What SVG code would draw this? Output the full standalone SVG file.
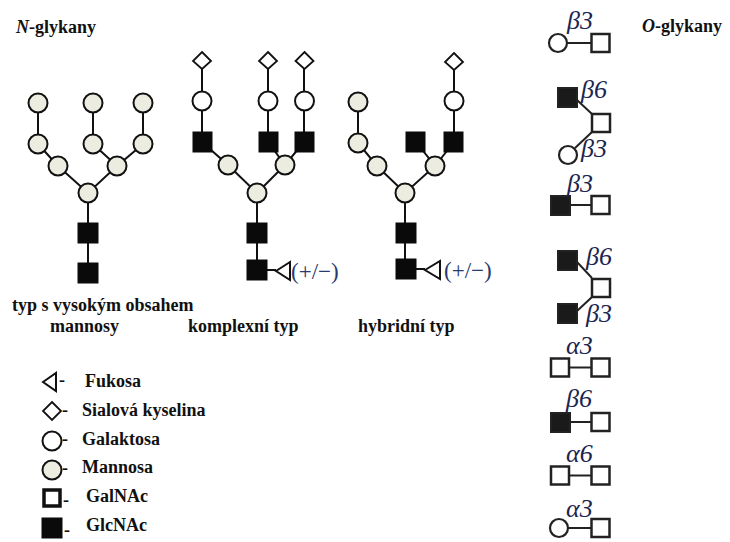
<svg xmlns="http://www.w3.org/2000/svg" width="730" height="542" viewBox="0 0 730 542">
<style>
.ln{stroke:#111;stroke-width:2;fill:none}
.oln{stroke:#222;stroke-width:2;fill:none}
.man{fill:#ecece0;stroke:#111;stroke-width:2}
.gal{fill:#fff;stroke:#111;stroke-width:2}
.glc{fill:#0a0a0a;stroke:#0a0a0a;stroke-width:1}
.sia{fill:#fff;stroke:#111;stroke-width:1.8}
.fuc{fill:#fff;stroke:#111;stroke-width:2}
.gnac{fill:#fff;stroke:#222;stroke-width:2.5}
.ognac{fill:#1a1a1a;stroke:#222;stroke-width:2}
.ogal{fill:#fff;stroke:#222;stroke-width:2.2}
.t{font-family:"Liberation Serif","Times New Roman",serif;font-weight:bold;font-size:18px;fill:#111}
.gr{font-family:"Liberation Serif","Times New Roman",serif;font-style:italic;font-size:26px;fill:#1b2550}
.pm{font-family:"Liberation Serif","Times New Roman",serif;font-size:23px;fill:#283a70}
</style>

<text class="t" x="16" y="33"><tspan font-style="italic">N</tspan>-glykany</text>
<text class="t" x="642" y="32"><tspan font-style="italic">O</tspan>-glykany</text>

<g id="connectors">
  <path class="ln" d="M38,103V144L58,166L88,193L117,166L93,144V103M117,166L143,144V103M88,193V273"/>
  <path class="ln" d="M202,61V142L228,165L257,193L285,165L268,142V61M285,165L304,142V61M257,193V270H276"/>
  <path class="ln" d="M358,102V143L377,166L405,193L435,166L416,142M435,166L454,142V62M405,193V269H425"/>
  <path class="oln" d="M567,43H591"/>
  <path class="oln" d="M577,100L592,114M575,148L592,132"/>
  <path class="oln" d="M570,205H591"/>
  <path class="oln" d="M577,262L592,278M577,311L592,297"/>
  <path class="oln" d="M570,367.5H591"/>
  <path class="oln" d="M570,422H591"/>
  <path class="oln" d="M569,475.5H591"/>
  <path class="oln" d="M568,528H591"/>
</g>

<g id="high-mannose">
  <circle class="man" cx="38" cy="103" r="9.5"/>
  <circle class="man" cx="93" cy="103" r="9.5"/>
  <circle class="man" cx="143" cy="103" r="9.5"/>
  <circle class="man" cx="38" cy="144" r="9.5"/>
  <circle class="man" cx="93" cy="144" r="9.5"/>
  <circle class="man" cx="143" cy="144" r="9.5"/>
  <circle class="man" cx="58" cy="166" r="9.5"/>
  <circle class="man" cx="117" cy="166" r="9.5"/>
  <circle class="man" cx="88" cy="193" r="9.5"/>
  <rect class="glc" x="78" y="223" width="20" height="20"/>
  <rect class="glc" x="78" y="263" width="20" height="20"/>
  <text class="t" x="12" y="311">typ s vysokým obsahem</text>
  <text class="t" x="50" y="332">mannosy</text>
</g>

<g id="complex">
  <polygon class="sia" points="202,52 211,61 202,69 193,61"/>
  <polygon class="sia" points="268,52 277,61 268,69 259,61"/>
  <polygon class="sia" points="304.5,52 313.5,61 304.5,69 295.5,61"/>
  <circle class="gal" cx="202" cy="101" r="9.5"/>
  <circle class="gal" cx="268" cy="101" r="9.5"/>
  <circle class="gal" cx="304.5" cy="101" r="9.5"/>
  <rect class="glc" x="193" y="132" width="19" height="20"/>
  <rect class="glc" x="259" y="132" width="19" height="20"/>
  <rect class="glc" x="295" y="132" width="19" height="20"/>
  <circle class="man" cx="228" cy="165" r="9.5"/>
  <circle class="man" cx="285" cy="165" r="9.5"/>
  <circle class="man" cx="257" cy="193" r="9.5"/>
  <rect class="glc" x="247" y="223" width="20" height="20"/>
  <rect class="glc" x="247" y="260" width="20" height="20"/>
  <polygon class="fuc" points="276,271 290,262 290,280"/>
  <text class="pm" x="291" y="279">(+/−)</text>
  <text class="t" x="188" y="332">komplexní typ</text>
</g>

<g id="hybrid">
  <circle class="man" cx="358" cy="102" r="9.5"/>
  <circle class="man" cx="358" cy="143" r="9.5"/>
  <circle class="man" cx="377" cy="166" r="9.5"/>
  <circle class="man" cx="405" cy="193" r="9.5"/>
  <circle class="man" cx="435" cy="166" r="9.5"/>
  <rect class="glc" x="406" y="132" width="19" height="20"/>
  <rect class="glc" x="444" y="132" width="19" height="20"/>
  <circle class="gal" cx="454" cy="101" r="9.5"/>
  <polygon class="sia" points="454,53 463,62 454,70 445,62"/>
  <rect class="glc" x="396" y="223" width="20" height="20"/>
  <rect class="glc" x="396" y="259" width="20" height="20"/>
  <polygon class="fuc" points="425,270 440,261 440,279"/>
  <text class="pm" x="444" y="278">(+/−)</text>
  <text class="t" x="358" y="332">hybridní typ</text>
</g>

<g id="legend">
  <polygon class="fuc" points="43,382 56,373 56,391"/>
  <text class="t" x="59" y="386">-</text>
  <text class="t" x="85" y="387">Fukosa</text>
  <polygon class="sia" points="52,402 61,411 52,420 43,411"/>
  <text class="t" x="62" y="416">-</text>
  <text class="t" x="82" y="416">Sialová kyselina</text>
  <circle class="gal" cx="52" cy="441" r="9.5"/>
  <text class="t" x="62" y="445">-</text>
  <text class="t" x="82" y="445">Galaktosa</text>
  <circle class="man" cx="52" cy="470" r="9.5"/>
  <text class="t" x="62" y="474">-</text>
  <text class="t" x="82" y="473">Mannosa</text>
  <rect x="44" y="490" width="16" height="16" fill="#fff" stroke="#111" stroke-width="3.5"/>
  <text class="t" x="63" y="506">-</text>
  <text class="t" x="86" y="502">GalNAc</text>
  <rect class="glc" x="42" y="518" width="20" height="20"/>
  <text class="t" x="64" y="536">-</text>
  <text class="t" x="86" y="531">GlcNAc</text>
</g>

<g id="o1">
  <circle class="ogal" cx="558" cy="43" r="9"/>
  <rect class="gnac" x="591.5" y="34" width="18" height="18"/>
  <text class="gr" x="567" y="29">β3</text>
</g>
<g id="o2">
  <rect class="ognac" x="558" y="88" width="19" height="19"/>
  <rect class="gnac" x="592" y="114" width="18" height="18"/>
  <circle class="ogal" cx="568" cy="155" r="9"/>
  <text class="gr" x="581" y="98">β6</text>
  <text class="gr" x="581" y="157">β3</text>
</g>
<g id="o3">
  <rect class="ognac" x="551" y="196" width="19" height="19"/>
  <rect class="gnac" x="591.5" y="196" width="18" height="18"/>
  <text class="gr" x="567" y="192">β3</text>
</g>
<g id="o4">
  <rect class="ognac" x="558" y="251" width="19" height="19"/>
  <rect class="ognac" x="558" y="304" width="19" height="19"/>
  <rect class="gnac" x="592" y="279" width="18" height="18"/>
  <text class="gr" x="586" y="265">β6</text>
  <text class="gr" x="586" y="322">β3</text>
</g>
<g id="o5">
  <rect class="gnac" x="551" y="358.5" width="18" height="18"/>
  <rect class="gnac" x="591.5" y="358.5" width="18" height="18"/>
  <text class="gr" x="566" y="354">α3</text>
</g>
<g id="o6">
  <rect class="ognac" x="551" y="413" width="19" height="19"/>
  <rect class="gnac" x="591.5" y="413" width="18" height="18"/>
  <text class="gr" x="566" y="407">β6</text>
</g>
<g id="o7">
  <rect class="gnac" x="551" y="466.5" width="18" height="18"/>
  <rect class="gnac" x="591.5" y="466.5" width="18" height="18"/>
  <text class="gr" x="566" y="462">α6</text>
</g>
<g id="o8">
  <circle class="ogal" cx="559" cy="528" r="9"/>
  <rect class="gnac" x="591.5" y="519" width="18" height="18"/>
  <text class="gr" x="566" y="517">α3</text>
</g>
</svg>
